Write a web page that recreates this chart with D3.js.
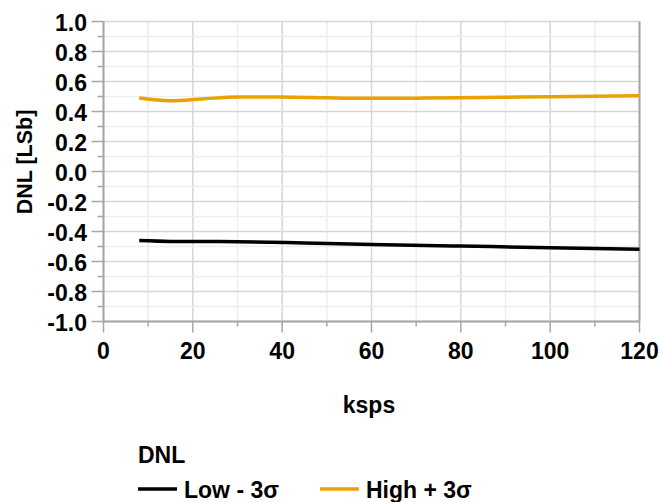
<!DOCTYPE html>
<html><head><meta charset="utf-8">
<script src="https://cdn.jsdelivr.net/npm/d3@7"></script>
<style>body{margin:0;background:#fff}svg{display:block}text{font-family:"Liberation Sans",Arial,sans-serif;font-weight:bold;fill:#000}</style>
</head><body>
<script>
const xLow = [8, 15, 30, 45, 60, 80, 100, 120];
const yLow = [-0.460, -0.466, -0.468, -0.476, -0.486, -0.497, -0.508, -0.518];
const xHigh = [8, 15, 22, 30, 40, 50, 60, 70, 80, 90, 100, 110, 120];
const yHigh = [0.490, 0.472, 0.484, 0.497, 0.496, 0.491, 0.488, 0.489, 0.492, 0.495, 0.498, 0.502, 0.505];
const xTicks = [0, 20, 40, 60, 80, 100, 120];
const yTicks = [-1.0, -0.8, -0.6, -0.4, -0.2, 0.0, 0.2, 0.4, 0.6, 0.8, 1.0];
const seriesNames = ["Low - 3σ", "High + 3σ"];
const seriesColors = ["#000000", "#e8a202"];
const xTitle = "ksps", yTitle = "DNL [LSb]", legendTitle = "DNL";

const W = 661, H = 502;
const svg = d3.select("body").append("svg").attr("width", W).attr("height", H);
const x = d3.scaleLinear().domain([0, 120]).range([103.5, 639.5]);
const y = d3.scaleLinear().domain([-1, 1]).range([321.5, 21.5]);

const xMinor = d3.range(0, 121, 10), yMinor = d3.range(-10, 11).map(d => d / 10);
const g = svg.append("g");
g.selectAll(".xm").data(xMinor).enter().append("line")
  .attr("x1", d => x(d)).attr("x2", d => x(d)).attr("y1", y(1)).attr("y2", y(-1))
  .attr("stroke", d => d % 20 === 0 ? "#d6d6d6" : "#ededed").attr("stroke-width", 1.5);
g.selectAll(".ym").data(yMinor).enter().append("line")
  .attr("x1", x(0)).attr("x2", x(120)).attr("y1", d => y(d)).attr("y2", d => y(d))
  .attr("stroke", d => Math.round(d * 10) % 2 === 0 ? "#d6d6d6" : "#ededed").attr("stroke-width", 1.5);

// axes
const ax = "#a6a6a6";
svg.append("line").attr("x1", x(0)).attr("x2", x(0)).attr("y1", y(1)).attr("y2", y(-1)).attr("stroke", ax).attr("stroke-width", 2);
svg.append("line").attr("x1", x(120)).attr("x2", x(120)).attr("y1", y(1)).attr("y2", y(-1)).attr("stroke", ax).attr("stroke-width", 2);
svg.append("line").attr("x1", x(0)).attr("x2", x(120)).attr("y1", y(-1)).attr("y2", y(-1)).attr("stroke", ax).attr("stroke-width", 2);
svg.selectAll(".yt").data(yMinor).enter().append("line")
  .attr("x1", d => Math.round(d * 10) % 2 === 0 ? x(0) - 12 : x(0) - 6).attr("x2", x(0))
  .attr("y1", d => y(d)).attr("y2", d => y(d)).attr("stroke", ax).attr("stroke-width", 1.5);
svg.selectAll(".xt").data(xMinor).enter().append("line")
  .attr("y1", y(-1)).attr("y2", d => d % 20 === 0 ? y(-1) + 11 : y(-1) + 5)
  .attr("x1", d => x(d)).attr("x2", d => x(d)).attr("stroke", ax).attr("stroke-width", 1.5);

svg.selectAll(".yl").data(yTicks).enter().append("text")
  .attr("x", 87).attr("y", d => y(d)).attr("dy", "0.42em").attr("text-anchor", "end")
  .attr("font-size", 23).text(d => d.toFixed(1));
svg.selectAll(".xl").data(xTicks).enter().append("text")
  .attr("x", d => x(d)).attr("y", 359).attr("text-anchor", "middle")
  .attr("font-size", 23).text(d => d);

svg.append("text").attr("x", 369).attr("y", 413).attr("text-anchor", "middle").attr("font-size", 23).text(xTitle);
svg.append("text").attr("transform", "translate(32,162) rotate(-90)").attr("text-anchor", "middle").attr("font-size", 21.5).text(yTitle);

const line = d3.line().x(d => x(d[0])).y(d => y(d[1])).curve(d3.curveMonotoneX);
const series = [d3.zip(xLow, yLow), d3.zip(xHigh, yHigh)];
svg.selectAll(".s").data(series).enter().append("path")
  .attr("d", line).attr("fill", "none").attr("stroke", (d, i) => seriesColors[i]).attr("stroke-width", 3.5);

// legend
svg.append("text").attr("x", 138).attr("y", 463).attr("font-size", 23).text(legendTitle);
const lx = [138, 320];
seriesNames.forEach((n, i) => {
  svg.append("line").attr("x1", lx[i]).attr("x2", lx[i] + 39).attr("y1", 489).attr("y2", 489)
    .attr("stroke", seriesColors[i]).attr("stroke-width", 3.5);
  svg.append("text").attr("x", lx[i] + 46).attr("y", 498).attr("font-size", 23).text(n);
});
</script>
</body></html>
